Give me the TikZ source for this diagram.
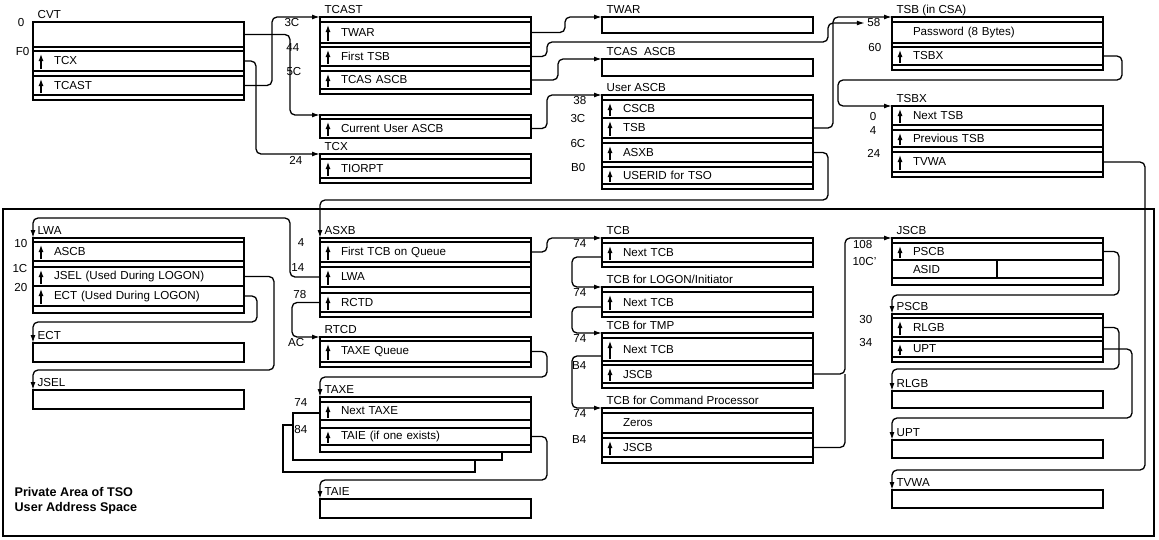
\documentclass[tikz,border=0pt]{standalone}
\usepackage{fontspec}
\setmainfont{Liberation Sans}
\usetikzlibrary{arrows.meta,positioning,calc}

\newcommand{\cbfont}{\fontsize{11.6}{15}\selectfont}
% one control block: x, top y, rows height/kind/text/name (s = gap, f = field, p = pointer field)
\newcommand{\ctlblock}[3]{%
  \xdef\rowy{#2}%
  \foreach \rh/\rk/\rt/\rn in {#3}{%
    \node[row=\rh] (\rn) at (#1,\rowy) {\rt};
    \if\rk p\draw[ptr] ([shift={(8,-2)}]\rn.south west) -- ([shift={(8,3)}]\rn.north west);\fi
    \pgfmathsetmacro\nexty{\rowy+\rh}%
    \xdef\rowy{\nexty}%
  }%
}

\begin{document}
\begin{tikzpicture}[x=1pt,y=-1pt,line width=1.3pt,
  row/.style={draw,fill=white,anchor=north west,minimum height=#1,text width=169pt,
    inner xsep=21pt,inner ysep=0pt,outer sep=0pt,align=left,font=\cbfont},
  ptr/.style={-{Latex[length=7pt,width=5pt]},line width=1.2pt},
  link/.style={rounded corners=5pt,-{Latex[length=8pt,width=5pt]}},
  title/.style={anchor=base west,inner sep=0pt,xshift=4pt,yshift=4pt,font=\cbfont},
  offs/.style={anchor=east,inner sep=0pt,yshift=-1pt,font=\cbfont},
  sheet/.style={draw,fill=white,anchor=north west,inner sep=0pt,outer sep=0pt}]
\useasboundingbox (0,0) rectangle (1159,539);

% private area frame
\node[draw,anchor=north west,minimum width=1151,minimum height=327,inner sep=0pt,outer sep=0pt] (area) at (3,209) {};
\node[font=\fontsize{12.6}{15}\selectfont\bfseries,anchor=north west,align=left,inner sep=0pt] (priv) at (14,487) {Private Area of TSO\\User Address Space};

% common area blocks
\ctlblock{33}{22}{25/f//cvt-0,4/s//cvt-s1,20/p/TCX/cvt-tcx,5/s//cvt-s2,19/p/TCAST/cvt-tcast,5/s//cvt-s3}
\ctlblock{320}{17}{5/s//tcast-top,21/p/TWAR/tcast-twar,4/s//tcast-s1,19/p/First TSB/tcast-tsb,5/s//tcast-s2,18/p/TCAS ASCB/tcast-ascb,5/s//tcast-s3}
\ctlblock{320}{115}{4/s//cua-top,19/p/Current User ASCB/cua}
\ctlblock{320}{154}{5/s//tcx-top,19/p/TIORPT/tcx-tiorpt,5/s//tcx-s1}
\ctlblock{602}{17}{16/f//twar}
\ctlblock{602}{59}{17/f//tcasascb}
\ctlblock{602}{95}{5/s//ua-top,18/p/CSCB/ua-cscb,20/p/TSB/ua-tsb,5/s//ua-s1,19/p/ASXB/ua-asxb,5/s//ua-s2,17/p/USERID for TSO/ua-userid,5/s//ua-s3}
\ctlblock{892}{17}{5/s//tsb-top,21/f/Password (8 Bytes)/tsb-pw,4/s//tsb-s1,18/p/TSBX/tsb-tsbx,5/s//tsb-s2}
\ctlblock{892}{106}{19/p/Next TSB/tsbx-next,5/s//tsbx-s1,17/p/Previous TSB/tsbx-prev,5/s//tsbx-s2,20/p/TVWA/tsbx-tvwa,5/s//tsbx-s3}

% private area blocks
\ctlblock{33}{238}{4/s//lwa-top,19/p/ASCB/lwa-ascb,6/s//lwa-s1,19/p/JSEL (Used During LOGON)/lwa-jsel,20/p/ECT (Used During LOGON)/lwa-ect,7/s//lwa-s2}
\ctlblock{33}{343}{19/f//ect}
\ctlblock{33}{390}{19/f//jsel}
\ctlblock{320}{238}{4/s//asxb-top,20/p/First TCB on Queue/asxb-tcb,5/s//asxb-s1,20/p/LWA/asxb-lwa,6/s//asxb-s2,19/p/RCTD/asxb-rctd,5/s//asxb-s3}
\ctlblock{320}{337}{4/s//rtcd-top,21/p/TAXE Queue/rtcd-taxe,5/s//rtcd-s1}
\node[sheet,minimum width=192,minimum height=47] (taxe-sh2) at (283,425) {};
\node[sheet,minimum width=209,minimum height=47] (taxe-sh1) at (293,413) {};
\ctlblock{320}{397}{5/s//taxe-top,18/p/Next TAXE/taxe-next,8/s//taxe-s1,17/p/TAIE (if one exists)/taxe-taie,7/s//taxe-s2}
\ctlblock{320}{499}{19/f//taie}
\ctlblock{602}{238}{5/s//tcb1-top,19/p/Next TCB/tcb1-next,5/s//tcb1-s1}
\ctlblock{602}{287}{5/s//tcb2-top,20/p/Next TCB/tcb2-next,5/s//tcb2-s1}
\ctlblock{602}{333}{5/s//tcb3-top,23/p/Next TCB/tcb3-next,4/s//tcb3-s1,18/p/JSCB/tcb3-jscb,5/s//tcb3-s2}
\ctlblock{602}{408}{5/s//tcb4-top,20/f/Zeros/tcb4-zeros,5/s//tcb4-s1,19/p/JSCB/tcb4-jscb,6/s//tcb4-s2}
\ctlblock{892}{238}{5/s//jscb-top,17/p/PSCB/jscb-pscb,18/f/ASID/jscb-asid,7/s//jscb-s1}
\draw ([xshift=105]jscb-asid.north west) -- ([xshift=105]jscb-asid.south west);
\ctlblock{892}{314}{4/s//pscb-top,19/p/RLGB/pscb-rlgb,4/s//pscb-s1,16/p/UPT/pscb-upt,5/s//pscb-s2}
\ctlblock{892}{391}{17/f//rlgb}
\ctlblock{892}{440}{18/f//upt}
\ctlblock{892}{490}{18/f//tvwa}

% block names
\foreach \n/\t in {cvt-0/CVT,tcast-top/TCAST,tcx-top/TCX,twar/TWAR,tcasascb/{TCAS\ \ ASCB},
  ua-top/User ASCB,tsb-top/TSB (in CSA),tsbx-next/TSBX,lwa-top/LWA,ect/ECT,jsel/JSEL,
  asxb-top/ASXB,rtcd-top/RTCD,taxe-top/TAXE,taie/TAIE,tcb1-top/TCB,tcb2-top/{TCB for LOGON/Initiator},
  tcb3-top/TCB for TMP,tcb4-top/TCB for Command Processor,jscb-top/JSCB,pscb-top/PSCB,
  rlgb/RLGB,upt/UPT,tvwa/TVWA}
  \node[title] (t-\n) at (\n.north west) {\t};

% offsets
\foreach \n/\t/\dx in {cvt-0/0/8,cvt-tcx/F0/3,tcast-twar/3C/20,tcast-tsb/44/20,tcast-ascb/5C/18,
  tcx-tiorpt/24/17,ua-cscb/38/15,ua-tsb/3C/16,ua-asxb/6C/16,ua-userid/B0/16,tsb-pw/58/11,
  tsb-tsbx/60/10,tsbx-prev/4/15,tsbx-tvwa/24/11,lwa-ascb/10/5,lwa-jsel/1C/5,lwa-ect/20/5,
  asxb-tcb/4/15,asxb-lwa/14/15,asxb-rctd/78/13,rtcd-taxe/AC/15,taxe-next/74/12,taxe-taie/84/12,
  tcb1-next/74/15,tcb2-next/74/15,tcb3-next/74/15,tcb3-jscb/B4/15,tcb4-zeros/74/15,tcb4-jscb/B4/15,
  jscb-pscb/108/19,jscb-asid/10C'/15,pscb-rlgb/30/19,pscb-upt/34/19}
  \node[offs,xshift=-\dx] (o-\n) at (\n.north west) {\t};
\node[offs,xshift=-15] (o-tsbx-next) at (tsbx-next.west) {0};

% pointers
\draw[link] (cvt-0.east) -- ++(46,0) |- (cua-top.north west);
\draw[link] (cvt-tcast.east) -- ++(28,0) |- (tcast-top.north west);
\draw[link] (cvt-tcx.east) -- ++(12,0) |- (tcx-top.north west);
\draw[link] (tcast-twar.east) -- ++(34,0) |- (twar.north west);
\draw[link] (tcast-tsb.east) -- ++(16,0) |- ([shift={(-64,20)}]tsb-pw.north west) |- ([xshift=-2]o-tsb-pw.west);
\draw[link] (tcast-ascb.east) -- ++(27,0) |- (tcasascb.north west);
\draw[link] (cua.east) -- ++(16,0) |- (ua-top.north west);
\draw[link] (ua-tsb.east) -- ++(20,0) |- (tsb-top.north west);
\draw[link] (ua-asxb.east) -- ++(15,0) |- ([shift={(0,-38)}]asxb-top.north west) -- (asxb-top.north west);
\draw[link] (tsb-tsbx.east) -- ++(19,0) -- ++(0,24) -| ([shift={(-54,0)}]tsbx-next.north west) -- (tsbx-next.north west);
\draw[link] (tsbx-tvwa.east) -- ++(42,0) |- ([shift={(0,-20)}]tvwa.north west) -- (tvwa.north west);
\draw[link] (asxb-lwa.west) -- ++(-30,0) |- ([shift={(0,-20)}]lwa-top.north west) -- (lwa-top.north west);
\draw[link] (lwa-ect.east) -- ++(13,0) |- ([shift={(0,-21)}]ect.north west) -- (ect.north west);
\draw[link] (lwa-jsel.east) -- ++(30,0) |- ([shift={(0,-20)}]jsel.north west) -- (jsel.north west);
\draw[link] (asxb-rctd.west) -- ++(-28,0) |- (rtcd-top.north west);
\draw[link] (rtcd-taxe.east) -- ++(16,0) |- ([shift={(0,-20)}]taxe-top.north west) -- (taxe-top.north west);
\draw[link] (taxe-taie.east) -- ++(16,0) |- ([shift={(0,-19)}]taie.north west) -- (taie.north west);
\draw[link] (asxb-tcb.east) -- ++(16,0) |- (tcb1-top.north west);
\foreach \a/\b in {tcb1/tcb2,tcb2/tcb3,tcb3/tcb4}
  \draw[link] ([shift={(0,-5)}]\a-next.south west) -- ++(-30,0) |- (\b-top.north west);
\draw[link] (tcb3-jscb.east) -- ++(32,0) |- (jscb-top.north west);
\draw[link,-] (tcb4-jscb.east) -| ([xshift=32]tcb3-jscb.east);
\draw[link] (jscb-pscb.east) -- ++(16,0) |- ([shift={(0,-19)}]pscb-top.north west) -- (pscb-top.north west);
\draw[link] (pscb-rlgb.east) -- ++(16,0) |- ([shift={(0,-22)}]rlgb.north west) -- (rlgb.north west);
\draw[link] (pscb-upt.east) -- ++(29,0) |- ([shift={(0,-22)}]upt.north west) -- (upt.north west);
\end{tikzpicture}
\end{document}
